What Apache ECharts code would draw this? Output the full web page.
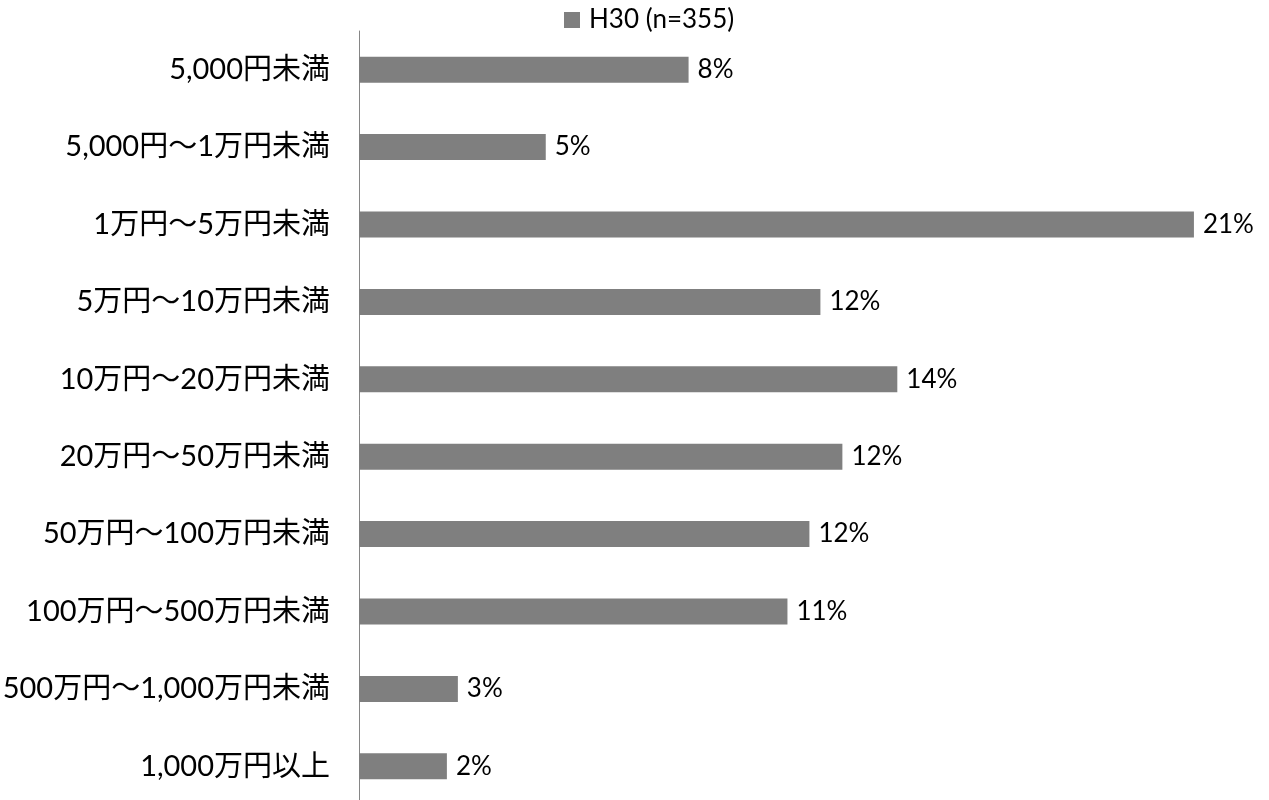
<!DOCTYPE html>
<html>
<head>
<meta charset="utf-8">
<script src="https://cdn.jsdelivr.net/npm/echarts@6/dist/echarts.min.js"></script>
<style>
html,body{margin:0;padding:0;background:#fff;}
#chart{width:1269px;height:800px;}
</style>
</head>
<body>
<div id="chart"></div>
<script>
const categories = [
  '5,000円未満',
  '5,000円～1万円未満',
  '1万円～5万円未満',
  '5万円～10万円未満',
  '10万円～20万円未満',
  '20万円～50万円未満',
  '50万円～100万円未満',
  '100万円～500万円未満',
  '500万円～1,000万円未満',
  '1,000万円以上'
];
const seriesName = 'H30 (n=355)';
const total = 355;
const counts = [30, 17, 76, 42, 49, 44, 41, 39, 9, 8];
const values = counts.map(c => c / total);

const FONT = "Lato, 'Noto Sans CJK JP', sans-serif";
const chart = echarts.init(document.getElementById('chart'), null, {renderer: 'canvas'});
chart.setOption({
  animation: false,
  backgroundColor: '#ffffff',
  textStyle: {fontFamily: FONT},
  legend: {
    data: [seriesName],
    left: 564,
    top: 7,
    padding: 0,
    icon: 'rect',
    itemWidth: 16,
    itemHeight: 16,
    itemGap: 8,
    textStyle: {fontFamily: FONT, fontSize: 26, color: '#000000', padding: [0, 0, 0, 4]}
  },
  grid: {left: 359, top: 31, width: 897, height: 774, containLabel: false, outerBoundsMode: 'none'},
  xAxis: {
    type: 'value',
    min: 0,
    max: 0.23,
    show: false,
    splitLine: {show: false}
  },
  yAxis: {
    type: 'category',
    data: categories,
    inverse: true,
    axisLine: {show: true, lineStyle: {color: '#868686', width: 1}},
    axisTick: {show: false},
    axisLabel: {fontFamily: FONT, fontSize: 29, color: '#000000', margin: 29}
  },
  series: [{
    name: seriesName,
    type: 'bar',
    data: values,
    barWidth: 26,
    itemStyle: {color: '#7f7f7f'},
    label: {
      show: true,
      position: 'right',
      distance: 9,
      fontFamily: FONT,
      fontSize: 26,
      color: '#000000',
      formatter: p => Math.round(p.value * 100) + '%'
    }
  }]
});
</script>
</body>
</html>
